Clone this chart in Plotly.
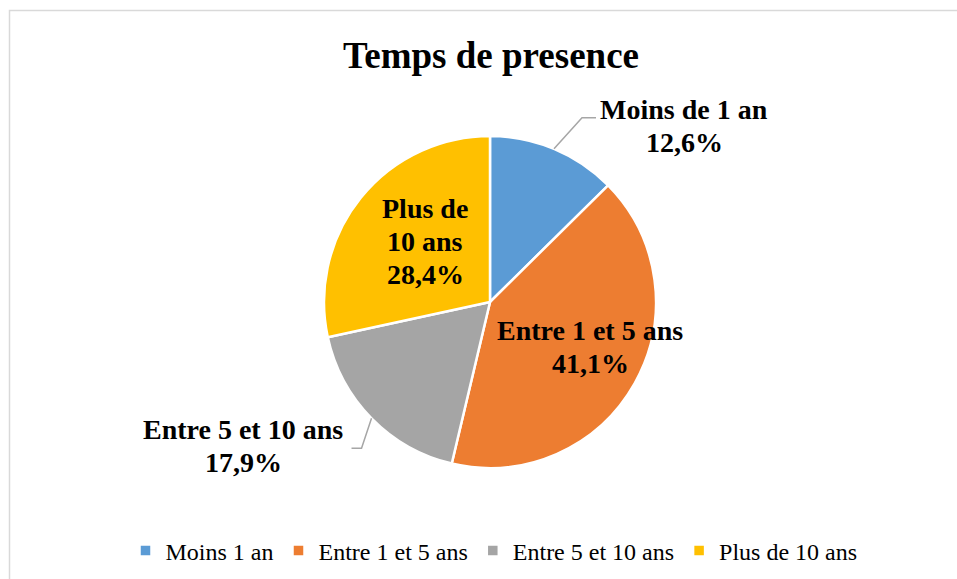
import math
import plotly.graph_objects as go

# Data
categories = ["Moins 1 an", "Entre 1 et 5 ans", "Entre 5 et 10 ans", "Plus de 10 ans"]
label_lines = [["Moins de 1 an"], ["Entre 1 et 5 ans"], ["Entre 5 et 10 ans"], ["Plus de", "10 ans"]]
values = [12.6, 41.1, 17.9, 28.4]
colors = ["#5B9BD5", "#ED7D31", "#A5A5A5", "#FFC000"]

W, H = 957, 579
FONT = "Liberation Serif, Times New Roman, serif"

# pie geometry in pixels
cx, cy, r = 490, 302, 166
LINE_H = 33


def px(x, y):
    return x / W, 1 - y / H


fig = go.Figure()
fig.add_trace(go.Pie(
    labels=categories,
    values=values,
    sort=False,
    direction="clockwise",
    rotation=0,
    marker=dict(colors=colors, line=dict(color="white", width=2.5)),
    textinfo="none",
    hoverinfo="label+percent",
    domain=dict(x=[(cx - r) / W, (cx + r) / W], y=[1 - (cy + r) / H, 1 - (cy - r) / H]),
))

# label block centers (pixels) and leader lines for the outside labels
label_pos = [(684, 126), (590, 347), (243, 446), (425, 241)]
leader = [(28, -31, 14), None, (-10, 30, -10), None]

total = sum(values)
cum = 0
for i, v in enumerate(values):
    mid = (cum + v / 2) / total * 2 * math.pi
    cum += v
    lx, ly = label_pos[i]
    pct = f"{v / total * 100:.1f}%".replace(".", ",")
    lines = label_lines[i] + [pct]
    top = ly - LINE_H * (len(lines) - 1) / 2
    for k, t in enumerate(lines):
        x, y = px(lx, top + k * LINE_H)
        fig.add_annotation(
            x=x, y=y, xref="paper", yref="paper", showarrow=False,
            text=f"<b>{t}</b>",
            font=dict(family=FONT, size=28, color="black"),
            xanchor="center", yanchor="middle",
        )
    if leader[i]:
        sx = cx + r * math.sin(mid)
        sy = cy - r * math.cos(mid)
        dx, dy, hx = leader[i]
        ex, ey = sx + dx, sy + dy
        pts = [px(sx, sy), px(ex, ey), px(ex + hx, ey)]
        path = "M {} {} L {} {} L {} {}".format(*[c for p in pts for c in p])
        fig.add_shape(type="path", xref="paper", yref="paper", path=path,
                      line=dict(color="#A6A6A6", width=1.5))

# chart border
fig.add_shape(type="rect", xref="paper", yref="paper",
              x0=9.5 / W, x1=1.02, y0=-0.02, y1=1 - 10.5 / H,
              line=dict(color="#D9D9D9", width=1.5))

fig.update_layout(
    width=W, height=H,
    margin=dict(l=0, r=0, t=0, b=0),
    paper_bgcolor="white",
    title=dict(text="<b>Temps de presence</b>", x=491 / W, xanchor="center",
               y=1 - 55 / H, yanchor="middle",
               font=dict(family=FONT, size=37, color="black")),
    legend=dict(orientation="h", x=494 / W, xanchor="center",
                y=1 - 551 / H, yanchor="middle",
                font=dict(family=FONT, size=24, color="black"),
                traceorder="normal"),
    showlegend=True,
)

fig.write_html("out.html", config={"displayModeBar": False},
               post_script="document.body.style.margin='0';")
